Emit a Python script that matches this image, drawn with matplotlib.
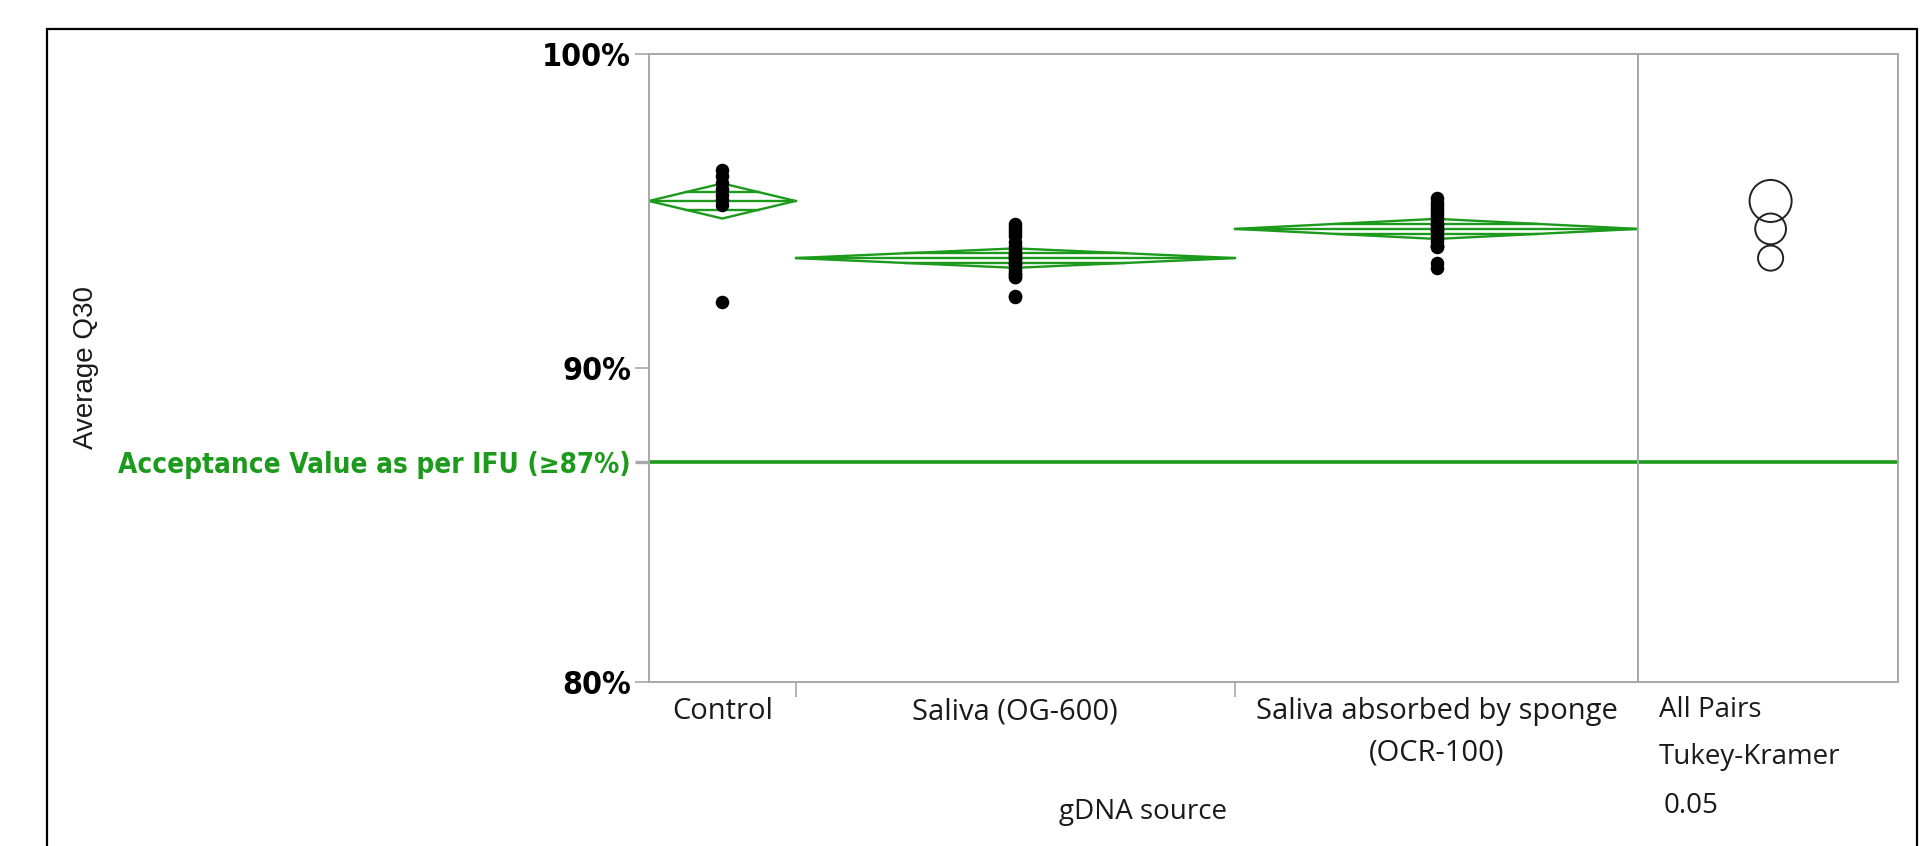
import matplotlib
matplotlib.use("Agg")
import matplotlib.pyplot as plt
from matplotlib import font_manager
from matplotlib.patches import Polygon, Circle, Rectangle
import numpy as np

# gDNA source groups and the Average Q30 (%) of each run
groups = ["Control", "Saliva (OG-600)", "Saliva absorbed by sponge\n(OCR-100)"]
control_q30 = [96.3, 96.1, 95.9, 95.7, 95.5, 95.35, 95.2, 92.1]
saliva_q30 = [94.6, 94.5, 94.4, 94.3, 94.2, 94.0, 93.9, 93.8, 93.7, 93.6, 93.6, 93.5,
              93.5, 93.4, 93.3, 93.3, 93.2, 93.1, 93.0, 93.0, 92.9, 92.9, 92.3, 92.25]
sponge_q30 = [95.4, 95.3, 95.2, 95.1, 95.0, 94.9, 94.8, 94.7, 94.6, 94.6, 94.5,
              94.4, 94.4, 94.3, 94.2, 94.1, 94.0, 93.9, 93.9, 93.85, 93.35, 93.2]

# means diamonds (group mean, 95% CI half width) and Tukey-Kramer circle radii
group_means = [95.32, 93.50, 94.43]
ci_half = [0.56, 0.31, 0.32]
circle_radii = [0.67, 0.40, 0.49]

acceptance = 87
y_ticks = [80, 87, 90, 100]
y_ticklabels = ["80%", "Acceptance Value as per IFU (\u226587%)", "90%", "100%"]

W, H = 1921, 846
GREEN = "#1c9a1c"
GRAY = "#a8a8a8"
ui_font = ["Open Sans", "DejaVu Sans"]

installed = {f.name for f in font_manager.fontManager.ttflist}
if "Liberation Sans Narrow" in installed:
    narrow_bold = dict(family=["Liberation Sans Narrow", "DejaVu Sans"], weight="bold")
else:
    narrow_bold = dict(family=["DejaVu Sans"], weight="bold", stretch="condensed")


def fx(px):
    return px / W


def fy(py):
    return 1 - py / H


fig = plt.figure(figsize=(W / 100, H / 100), dpi=100)
fig.patch.set_facecolor("white")

ax = fig.add_axes([fx(649), fy(682), fx(1638) - fx(649), fy(54) - fy(682)])
ax2 = fig.add_axes([fx(1638), fy(682), fx(1898) - fx(1638), fy(54) - fy(682)])

data = [control_q30, saliva_q30, sponge_q30]
counts = [len(d) for d in data]
edges = np.concatenate([[0], np.cumsum(counts)])
centers = (edges[:-1] + edges[1:]) / 2

for i, vals in enumerate(data):
    left, right, xc = edges[i], edges[i + 1], centers[i]
    m, ci = group_means[i], ci_half[i]
    half = (right - left) / 2
    diamond = Polygon([(left, m), (xc, m + ci), (right, m), (xc, m - ci)],
                      closed=True, fill=False, ec=GREEN, lw=1.7, zorder=2)
    ax.add_patch(diamond)
    ax.plot([left, right], [m, m], color=GREEN, lw=1.7, zorder=2)
    # overlap marks
    for s in (1, -1):
        ax.plot([xc - half * 0.5, xc + half * 0.5], [m + s * ci * 0.5] * 2,
                color=GREEN, lw=1.7, zorder=2)
    ax.scatter([xc] * len(vals), vals, s=95, color="black", zorder=3, linewidths=0)

ax.axhline(acceptance, color=GREEN, lw=2.6, zorder=1)
ax.set_xlim(edges[0], edges[-1])
ax.set_ylim(80, 100)

ax.set_yticks(y_ticks)
ax.set_yticklabels(y_ticklabels, fontsize=23, **narrow_bold)
ax.tick_params(axis="y", length=10, width=1.2, color=GRAY, pad=3)
acc_idx = y_ticks.index(acceptance)
ax.get_yticklabels()[acc_idx].set_color(GREEN)
ax.get_yticklabels()[acc_idx].set_fontsize(20)
ax.yaxis.get_major_ticks()[acc_idx].tick1line.set_color(GREEN)
ax.yaxis.get_major_ticks()[acc_idx].tick1line.set_markeredgewidth(2.4)

ax.set_xticks(edges[1:-1])
ax.set_xticklabels([])
ax.tick_params(axis="x", which="major", length=11, width=1.2, color=GRAY)
ax.set_xticks(centers, minor=True)
ax.set_xticklabels(groups, minor=True, fontsize=21, family=ui_font, linespacing=1.55,
                   color="#1a1a1a")
ax.tick_params(axis="x", which="minor", length=0, pad=11)

for a in (ax, ax2):
    for sp in a.spines.values():
        sp.set_color(GRAY)
        sp.set_linewidth(1.4)

# comparison circles panel, kept round by matching units per pixel
ax2.set_ylim(80, 100)
ax2_w = (1898 - 1638)
ax2_h = (682 - 54)
xspan = 20 * ax2_w / ax2_h
ax2.set_xlim(0, xspan)
ax2.axhline(acceptance, color=GREEN, lw=2.6, zorder=1)
for m, r in zip(group_means, circle_radii):
    ax2.add_patch(Circle((xspan * 0.51, m), r, fill=False, ec="#222222", lw=1.4))
ax2.set_xticks([])
ax2.set_yticks([])

fig.text(fx(86), fy(367), "Average Q30", rotation=90, ha="center", va="center",
         fontsize=20, family=["Liberation Sans", "DejaVu Sans"], color="#1a1a1a")
fig.text(fx(1143), fy(812), "gDNA source", ha="center", va="center",
         fontsize=20, family=ui_font, color="#1a1a1a")
for txt, yy, xx in [("All Pairs", 710, 1659), ("Tukey-Kramer", 757, 1659), ("0.05", 806, 1664)]:
    fig.text(fx(xx), fy(yy), txt, ha="left", va="center", fontsize=20,
             family=ui_font, color="#1a1a1a")

# outer frame, open at the bottom
fig.patches.append(Rectangle((fx(47), -0.2), fx(1917) - fx(47), fy(29) + 0.2,
                             transform=fig.transFigure, fill=False, ec="black", lw=1.6))

fig.savefig("out.png", dpi=100, facecolor="white")
